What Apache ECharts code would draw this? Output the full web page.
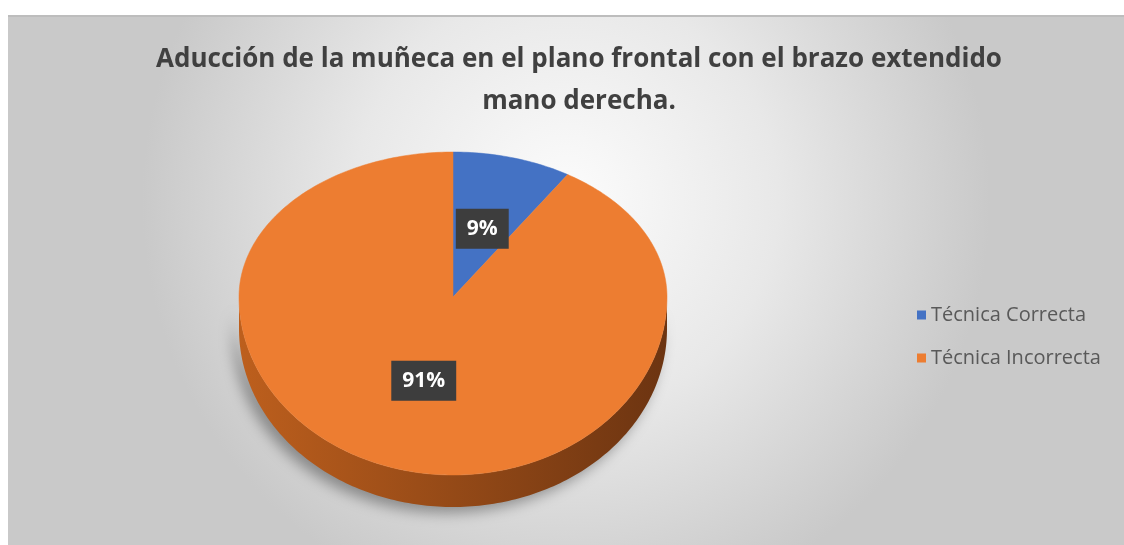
<!DOCTYPE html>
<html>
<head>
<meta charset="utf-8">
<script src="https://cdn.jsdelivr.net/npm/echarts@6/dist/echarts.min.js"></script>
<style>
  html, body { margin: 0; padding: 0; background: #ffffff; }
  #chart { width: 1124px; height: 545px; }
</style>
</head>
<body>
<div id="chart"></div>
<script>
// Categories and their shares (percent)
const categories = ['Técnica Correcta', 'Técnica Incorrecta'];
const shares = [9, 91];
const shareLabels = ['9%', '91%'];
const titleLines = ['Aducción de la muñeca en el plano frontal con el brazo extendido', 'mano derecha.'];

// Styling
const topColors = ['#4472C4', '#ED7D31'];
const wallColors = [['#3a64ad', '#1f3a6c'], ['#bd5f1d', '#6c3411']];

// Tilted-disc geometry (perspective: near half taller than far half)
const geo = { cx: 453, cy: 297, rx: 214, ryFar: 145, ryNear: 178, depth: 32 };

const total = shares.reduce((a, b) => a + b, 0);

function rimPoint(theta, dy) {
  const s = Math.sin(theta), c = Math.cos(theta);
  const ry = c >= 0 ? geo.ryFar : geo.ryNear;
  return [geo.cx + geo.rx * s, geo.cy - ry * c + (dy || 0)];
}

function arcPoints(a, b, dy) {
  const pts = [];
  const n = Math.max(2, Math.ceil((b - a) / (Math.PI / 180)));
  for (let i = 0; i <= n; i++) pts.push(rimPoint(a + (b - a) * i / n, dy));
  return pts;
}

function sliceRange(idx) {
  let before = 0;
  for (let i = 0; i < idx; i++) before += shares[i];
  const a = before / total * Math.PI * 2;
  const b = (before + shares[idx]) / total * Math.PI * 2;
  return [a, b];
}

function makeRenderer(idx) {
  return function (params, api) {
    const [a, b] = sliceRange(idx);
    const children = [];

    // Front wall (visible between 90° and 270°, clockwise from 12 o'clock)
    const wa = Math.max(a, Math.PI / 2), wb = Math.min(b, Math.PI * 1.5);
    if (wb > wa) {
      const topArc = arcPoints(wa, wb, 0);
      const botArc = arcPoints(wa, wb, geo.depth).reverse();
      children.push({
        type: 'polygon',
        z2: 1,
        shape: { points: topArc.concat(botArc) },
        style: {
          fill: {
            type: 'linear', x: 0, y: 0, x2: 1, y2: 0,
            colorStops: [
              { offset: 0, color: wallColors[idx][0] },
              { offset: 1, color: wallColors[idx][1] }
            ]
          },
          shadowBlur: 14,
          shadowColor: 'rgba(0,0,0,0.35)',
          shadowOffsetX: -6,
          shadowOffsetY: 6
        }
      });
    }

    // Top face
    children.push({
      type: 'polygon',
      z2: 5,
      shape: { points: [[geo.cx, geo.cy]].concat(arcPoints(a, b, 0)) },
      style: { fill: topColors[idx], stroke: topColors[idx], lineWidth: 0.5 }
    });

    // Data label
    const mid = (a + b) / 2;
    const k = 0.49;
    const s = Math.sin(mid), c = Math.cos(mid);
    const ry = c >= 0 ? geo.ryFar : geo.ryNear;
    children.push({
      type: 'text',
      z2: 10,
      x: geo.cx + geo.rx * k * s,
      y: geo.cy - ry * k * c,
      style: {
        text: shareLabels[idx],
        fill: '#ffffff',
        font: 'bold 21px "Open Sans", sans-serif',
        align: 'center',
        verticalAlign: 'middle',
        backgroundColor: '#3d3d3d',
        padding: [10, 11, 9, 11],
        boxShadowBlur: 6,
        boxShadowColor: 'rgba(0,0,0,0.45)',
        boxShadowOffsetX: 2,
        boxShadowOffsetY: 2
      }
    });

    return { type: 'group', children: children };
  };
}

const chart = echarts.init(document.getElementById('chart'), null, { renderer: 'canvas' });

chart.setOption({
  animation: false,
  graphic: [
    {
      type: 'rect',
      z: -10,
      shape: { x: 8, y: 15, width: 1116, height: 530 },
      style: {
        fill: {
          type: 'radial', x: 0.5, y: 0.35, r: 0.8,
          colorStops: [
            { offset: 0, color: '#fcfcfc' },
            { offset: 0.5, color: '#e8e8e8' },
            { offset: 1, color: '#c9c9c9' }
          ]
        }
      }
    },
    {
      type: 'line',
      z: -9,
      shape: { x1: 8, y1: 16, x2: 1124, y2: 16 },
      style: { stroke: '#bdbdbd', lineWidth: 2 }
    }
  ],
  title: {
    text: titleLines.join('\n'),
    left: 574,
    top: 34,
    textAlign: 'center',
    textStyle: {
      fontFamily: '"Open Sans", sans-serif',
      fontSize: 26,
      fontWeight: 'bold',
      color: '#404040',
      lineHeight: 42
    }
  },
  legend: {
    orient: 'vertical',
    left: 912,
    top: 300,
    itemWidth: 9,
    itemHeight: 9,
    itemGap: 23,
    icon: 'rect',
    data: categories,
    textStyle: {
      fontFamily: '"Open Sans", sans-serif',
      fontSize: 20,
      color: '#595959'
    }
  },
  series: categories.map((name, idx) => ({
    type: 'custom',
    name: name,
    coordinateSystem: 'none',
    itemStyle: { color: topColors[idx] },
    data: [[shares[idx]]],
    renderItem: makeRenderer(idx)
  }))
});
</script>
</body>
</html>
